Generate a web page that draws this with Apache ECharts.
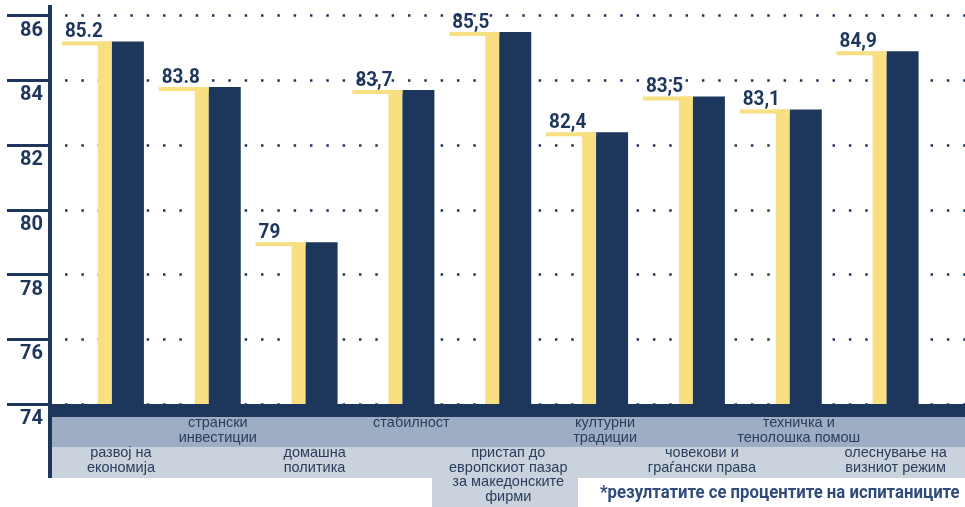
<!doctype html>
<html lang="mk">
<head>
  <meta charset="UTF-8">
  <script src="https://cdn.jsdelivr.net/npm/echarts@6/dist/echarts.min.js"></script>
  <title>Chart</title>
  <style type="text/css">
    html, body {
      width: 100%;
      height: 100%;
      margin: 0;
      padding: 0;
      background-color: #ffffff;
    }

    #canvas {
      width: 965px;
      height: 507px;
    }
  </style>
</head>
<body>
<div id="canvas"></div>

<script type="text/javascript">
  const categories = [
    'развој на\nекономија',
    'странски\nинвестиции',
    'домашна\nполитика',
    'стабилност',
    'пристап до\nевропскиот пазар\nза македонските\nфирми',
    'културни\nтрадиции',
    'човекови и\nграѓански права',
    'техничка и\nтенолошка помош',
    'олеснување на\nвизниот режим'
  ]
  const values = [85.2, 83.8, 79, 83.7, 85.5, 82.4, 83.5, 83.1, 84.9]
  const valueLabels = ['85.2', '83.8', '79', '83,7', '85,5', '82,4', '83,5', '83,1', '84,9']
  const yMin = 74
  const yMax = 86
  const yStep = 2
  const footnote = '*резултатите се процентите на испитаниците'

  const navy = '#1c375b'
  const yellow = '#f7df82'
  const labelColor = '#2b3d5c'
  const numFont = 'Roboto, "DejaVu Sans Condensed", sans-serif'

  const chart = echarts.init(document.getElementById('canvas'))

  const hiddenY = {
    type: 'value', gridIndex: 1, min: yMin, max: yMax, interval: yStep, show: false
  }

  // two rows of category names, alternating
  const labelAxis = (rowUp, margin) => ({
    type: 'category',
    gridIndex: 1,
    position: 'bottom',
    data: categories,
    z: 5,
    axisLine: { show: false },
    axisTick: { show: false },
    axisLabel: {
      interval: (i) => (i % 2 === 1) === rowUp,
      margin: margin,
      color: labelColor,
      fontFamily: '"Liberation Sans", Arial, sans-serif',
      fontSize: 14.5,
      lineHeight: 14.5
    }
  })

  chart.setOption({
    animation: false,
    grid: [
      { left: 52, right: 0, top: 15.7, bottom: 103 },
      { left: 72.5, right: 21, top: 15.7, bottom: 103 }
    ],
    xAxis: [
      {
        type: 'category',
        gridIndex: 0,
        data: categories,
        offset: 6.5,
        z: 4,
        axisLine: { show: true, lineStyle: { color: navy, width: 13, cap: 'butt' } },
        axisTick: { show: false },
        axisLabel: { show: false }
      },
      labelAxis(true, 12),
      labelAxis(false, 42)
    ],
    yAxis: [
      {
        type: 'value',
        gridIndex: 0,
        min: yMin,
        max: yMax,
        interval: yStep,
        offset: 2,
        axisLine: { show: true, lineStyle: { color: navy, width: 4, cap: 'butt' } },
        axisTick: { show: true, length: 43, lineStyle: { color: navy, width: 3 } },
        axisLabel: {
          margin: 7,
          verticalAlign: 'top',
          padding: [5, 0, 0, 0],
          color: navy,
          fontFamily: numFont,
          fontWeight: 'bold',
          fontSize: 20
        },
        splitLine: {
          show: true,
          lineStyle: { color: navy, width: 2.5, type: [2.5, 13.83], dashOffset: 3.3 }
        }
      },
      hiddenY
    ],
    graphic: [
      { type: 'rect', z: 1, shape: { x: 52, y: 417, width: 913, height: 30 }, style: { fill: '#9dadc4' } },
      { type: 'rect', z: 1, shape: { x: 52, y: 447, width: 913, height: 31 }, style: { fill: '#c9d2dd' } },
      { type: 'rect', z: 1, shape: { x: 432, y: 478, width: 146, height: 29 }, style: { fill: '#c9d2dd' } },
      { type: 'rect', z: 6, shape: { x: 48, y: 5, width: 4, height: 473 }, style: { fill: navy } },
      {
        type: 'text', z: 6, x: 600, y: 493, scaleX: 0.93,
        style: {
          text: footnote,
          fill: '#2f4b7a',
          font: 'bold 18px ' + numFont,
          verticalAlign: 'middle'
        }
      }
    ],
    series: [
      {
        type: 'bar',
        xAxisIndex: 1,
        yAxisIndex: 1,
        barWidth: 14,
        barGap: '0%',
        itemStyle: { color: yellow },
        data: values
      },
      {
        type: 'bar',
        xAxisIndex: 1,
        yAxisIndex: 1,
        barWidth: 32,
        itemStyle: { color: navy },
        data: values
      },
      {
        type: 'custom',
        xAxisIndex: 1,
        yAxisIndex: 1,
        z: 3,
        data: values.map((v, i) => [i, v]),
        renderItem: (params, api) => {
          const idx = api.value(0)
          const pt = api.coord([idx, api.value(1)])
          const c = pt[0]
          return {
            type: 'group',
            children: [
              {
                type: 'rect',
                shape: { x: c - 59, y: pt[1], width: 50, height: 4 },
                style: { fill: yellow }
              },
              {
                type: 'text',
                x: c - 56,
                y: pt[1] + 1,
                scaleX: 0.9,
                style: {
                  text: valueLabels[idx],
                  fill: navy,
                  font: 'bold 21px ' + numFont,
                  verticalAlign: 'bottom'
                }
              }
            ]
          }
        }
      }
    ]
  })
</script>
</body>
</html>
